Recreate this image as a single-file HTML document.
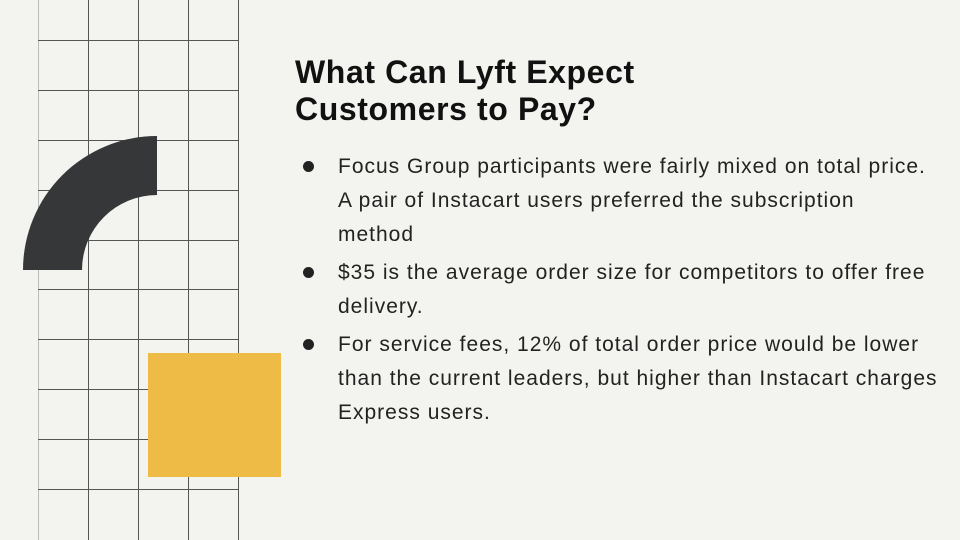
<!DOCTYPE html>
<html><head><meta charset="utf-8"><style>
body{margin:0;width:960px;height:540px;background:#f3f4ef;overflow:hidden;position:relative;font-family:"Liberation Sans",sans-serif}
svg{position:absolute;left:0;top:0}
h1{position:absolute;left:295px;top:54px;margin:0;font-size:32px;line-height:37px;font-weight:bold;color:#111;letter-spacing:0.6px;white-space:nowrap}
ul{position:absolute;left:303px;top:150px;margin:0;padding:0;list-style:none;width:657px}
li{position:relative;padding-left:35px;font-size:21px;line-height:34px;color:#222;margin-bottom:4px;letter-spacing:1px;white-space:nowrap}
li:before{content:"";position:absolute;left:0;top:11px;width:11px;height:11px;border-radius:50%;background:#222}
</style></head><body>
<svg width="960" height="540">
<g stroke="#555" stroke-width="1">
<line x1="38.5" y1="0" x2="38.5" y2="540" stroke="#bbb"/>
<line x1="88.5" y1="0" x2="88.5" y2="540"/>
<line x1="138.5" y1="0" x2="138.5" y2="540"/>
<line x1="188.5" y1="0" x2="188.5" y2="540"/>
<line x1="238.5" y1="0" x2="238.5" y2="540"/>
<line x1="38" y1="40.5" x2="238" y2="40.5"/>
<line x1="38" y1="90.5" x2="238" y2="90.5"/>
<line x1="38" y1="140.5" x2="238" y2="140.5"/>
<line x1="38" y1="190.5" x2="238" y2="190.5"/>
<line x1="38" y1="240.5" x2="238" y2="240.5"/>
<line x1="38" y1="289.5" x2="238" y2="289.5"/>
<line x1="38" y1="339.5" x2="238" y2="339.5"/>
<line x1="38" y1="389.5" x2="238" y2="389.5"/>
<line x1="38" y1="439.5" x2="238" y2="439.5"/>
<line x1="38" y1="489.5" x2="238" y2="489.5"/>
</g>
<path d="M23,270 A134,134 0 0 1 157,136 L157,195 A75,75 0 0 0 82,270 Z" fill="#363739"/>
<rect x="148" y="353" width="133" height="124" fill="#efbb47"/>
</svg>
<h1>What Can Lyft Expect<br>Customers to Pay?</h1>
<ul>
<li>Focus Group participants were fairly mixed on total price.<br>A pair of Instacart users preferred the subscription<br>method</li>
<li>$35 is the average order size for competitors to offer free<br>delivery.</li>
<li>For service fees, 12% of total order price would be lower<br>than the current leaders, but higher than Instacart charges<br>Express users.</li>
</ul>
</body></html>
